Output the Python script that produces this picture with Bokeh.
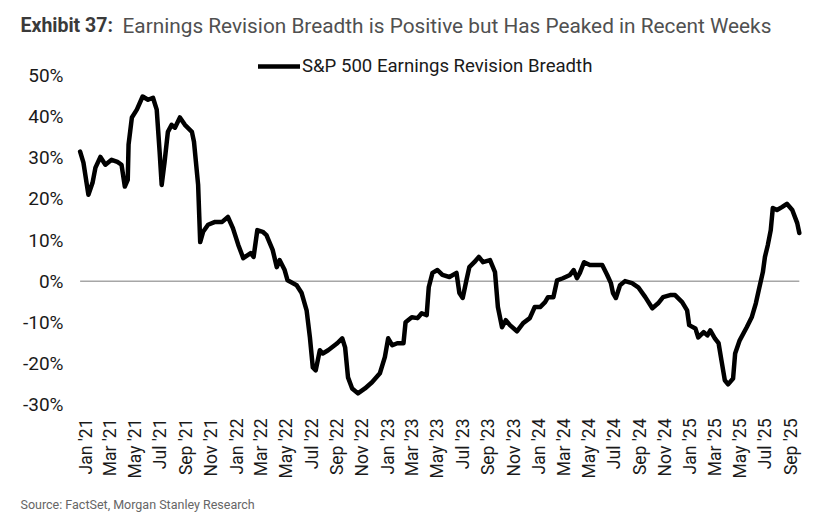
import pandas as pd
from math import pi
from bokeh.plotting import figure
from bokeh.models import FixedTicker, Legend, LegendItem, ColumnDataSource, Range1d, Label
from bokeh.embed import file_html
from bokeh.resources import INLINE

# ---- data ----
dates = [
    "2020-12-19", "2020-12-27", "2021-01-08", "2021-01-18", "2021-01-25", "2021-02-06", "2021-02-18", "2021-03-05", "2021-03-19", "2021-03-29",
    "2021-04-06", "2021-04-13", "2021-04-15", "2021-04-23", "2021-05-05", "2021-05-19", "2021-06-01", "2021-06-13", "2021-06-22", "2021-06-29",
    "2021-07-04", "2021-07-11", "2021-07-19", "2021-07-28", "2021-08-05", "2021-08-17", "2021-08-29", "2021-09-15", "2021-09-20", "2021-09-30",
    "2021-10-05", "2021-10-12", "2021-10-24", "2021-11-10", "2021-11-27", "2021-12-11", "2021-12-23", "2022-01-05", "2022-01-17", "2022-02-04",
    "2022-02-11", "2022-02-20", "2022-03-05", "2022-03-14", "2022-03-29", "2022-04-08", "2022-04-15", "2022-04-27", "2022-05-04", "2022-05-26",
    "2022-06-07", "2022-06-19", "2022-06-27", "2022-07-04", "2022-07-11", "2022-07-21", "2022-07-28", "2022-08-10", "2022-09-01", "2022-09-13",
    "2022-09-20", "2022-09-27", "2022-10-07", "2022-10-21", "2022-11-07", "2022-11-24", "2022-12-13", "2022-12-25", "2023-01-02", "2023-01-12",
    "2023-01-24", "2023-02-08", "2023-02-13", "2023-02-28", "2023-03-14", "2023-03-24", "2023-04-05", "2023-04-10", "2023-04-19", "2023-05-01",
    "2023-05-13", "2023-05-30", "2023-06-16", "2023-06-23", "2023-07-01", "2023-07-10", "2023-07-17", "2023-07-29", "2023-08-09", "2023-08-19",
    "2023-09-05", "2023-09-17", "2023-09-24", "2023-10-04", "2023-10-13", "2023-10-23", "2023-11-09", "2023-11-24", "2023-12-10", "2023-12-22",
    "2024-01-04", "2024-01-16", "2024-01-23", "2024-02-05", "2024-02-14", "2024-02-28", "2024-03-16", "2024-03-25", "2024-04-02", "2024-04-09",
    "2024-04-19", "2024-05-03", "2024-05-20", "2024-06-02", "2024-06-14", "2024-06-23", "2024-06-28", "2024-07-05", "2024-07-15", "2024-07-27",
    "2024-08-13", "2024-08-28", "2024-09-14", "2024-10-01", "2024-10-15", "2024-10-27", "2024-11-13", "2024-11-25", "2024-12-12", "2024-12-24",
    "2024-12-29", "2025-01-13", "2025-01-20", "2025-02-02", "2025-02-11", "2025-02-18", "2025-03-01", "2025-03-10", "2025-03-17", "2025-03-25",
    "2025-04-02", "2025-04-14", "2025-04-19", "2025-04-30", "2025-05-17", "2025-05-29", "2025-06-08", "2025-06-15", "2025-06-25", "2025-06-30",
    "2025-07-07", "2025-07-14", "2025-07-19", "2025-07-29", "2025-08-10", "2025-08-22", "2025-09-04", "2025-09-16", "2025-09-21",
]

breadth = [
    31.5, 28.8, 21.0, 23.9, 27.6, 30.2, 28.3, 29.5, 29.0, 28.3,
    23.0, 24.6, 33.2, 39.8, 41.7, 44.9, 44.1, 44.6, 41.7, 31.5,
    23.4, 29.0, 36.3, 38.0, 37.3, 39.8, 38.0, 36.3, 33.9, 23.4,
    9.5, 12.0, 13.7, 14.4, 14.4, 15.6, 12.9, 8.8, 5.6, 6.8,
    5.9, 12.4, 12.0, 11.2, 7.6, 3.4, 5.1, 2.7, 0.2, -1.0,
    -2.9, -7.1, -13.7, -21.0, -21.7, -16.8, -17.6, -16.8, -15.1, -13.9,
    -16.1, -23.4, -26.1, -27.3, -26.1, -24.6, -22.4, -18.5, -13.9, -15.6,
    -15.1, -15.1, -10.0, -8.8, -9.0, -7.8, -8.3, -1.5, 2.0, 2.7,
    1.5, 1.0, 2.0, -2.9, -4.1, 0.2, 3.4, 4.6, 5.9, 4.6,
    5.1, 2.2, -6.3, -11.2, -9.5, -10.7, -12.2, -10.2, -9.0, -6.3,
    -6.3, -5.1, -3.9, -3.9, 0.2, 0.7, 1.5, 2.7, 0.7, 2.0,
    4.6, 3.9, 3.9, 3.9, 1.5, -0.5, -2.9, -4.1, -1.0, 0.0,
    -0.5, -1.5, -3.9, -6.6, -5.4, -3.9, -3.4, -3.4, -5.1, -7.1,
    -10.7, -11.5, -13.7, -12.4, -13.2, -12.0, -13.9, -15.1, -19.3, -24.1,
    -25.1, -23.7, -17.6, -14.4, -11.2, -8.8, -5.4, -2.2, 2.2, 5.9,
    8.8, 12.4, 17.8, 17.3, 18.0, 18.8, 17.3, 14.1, 11.7,
]

tick_dates = [
    "2021-01-01", "2021-03-01", "2021-05-01", "2021-07-01", "2021-09-01", "2021-11-01",
    "2022-01-01", "2022-03-01", "2022-05-01", "2022-07-01", "2022-09-01", "2022-11-01",
    "2023-01-01", "2023-03-01", "2023-05-01", "2023-07-01", "2023-09-01", "2023-11-01",
    "2024-01-01", "2024-03-01", "2024-05-01", "2024-07-01", "2024-09-01", "2024-11-01",
    "2025-01-01", "2025-03-01", "2025-05-01", "2025-07-01", "2025-09-01",
]
tick_labels = [
    "Jan '21", "Mar '21", "May '21", "Jul '21", "Sep '21", "Nov '21",
    "Jan '22", "Mar '22", "May '22", "Jul '22", "Sep '22", "Nov '22",
    "Jan '23", "Mar '23", "May '23", "Jul '23", "Sep '23", "Nov '23",
    "Jan '24", "Mar '24", "May '24", "Jul '24", "Sep '24", "Nov '24",
    "Jan '25", "Mar '25", "May '25", "Jul '25", "Sep '25",
]
y_ticks = [-30, -20, -10, 0, 10, 20, 30, 40, 50]
y_tick_labels = ["-30%", "-20%", "-10%", "0%", "10%", "20%", "30%", "40%", "50%"]

series_name = "S&P 500 Earnings Revision Breadth"
title_bold = "Exhibit 37:"
title_rest = "Earnings Revision Breadth is Positive but Has Peaked in Recent Weeks"
source_text = "Source: FactSet, Morgan Stanley Research"

# ---- build ----
FONT = "Roboto"
W, H = 822, 520
LEFT = 20                 # frame starts at the title's left edge so header texts sit inside it
FW, FH = W - LEFT, 404     # frame spans from canvas top down to the plot's bottom edge

src = ColumnDataSource(data=dict(date=pd.to_datetime(dates), value=breadth))
tick_ms = [float(pd.Timestamp(d).value // 10**6) for d in tick_dates]

p = figure(
    x_axis_type="datetime",
    width=W, height=H,
    frame_width=FW, frame_height=FH,
    min_border_left=LEFT, min_border_right=0, min_border_top=0, min_border_bottom=H - FH,
    x_range=Range1d(pd.Timestamp("2020-07-28"), pd.Timestamp("2025-11-16")),
    y_range=Range1d(-30, 68.24),
    output_backend="svg", toolbar_location=None,
)
p.outline_line_color = None
p.xgrid.visible = False
p.ygrid.visible = False

# zero reference line across the plotted period
p.segment(x0=[pd.Timestamp(dates[0])], x1=[pd.Timestamp(dates[-1])], y0=[0], y1=[0],
          line_color="#a6a6a6", line_width=1.5)

r = p.line("date", "value", source=src, line_color="black", line_width=4.5,
           line_join="round", line_cap="round")

legend = Legend(items=[LegendItem(label=series_name, renderers=[r])],
                location=(258 - LEFT, FH - 77), orientation="horizontal",
                border_line_color=None, background_fill_alpha=0,
                label_text_font=FONT, label_text_font_size="18.6px", label_text_color="#1a1a1a",
                glyph_width=42, glyph_height=20, label_standoff=2,
                padding=0, margin=0, spacing=0, label_height=20)
p.add_layout(legend, "center")

xa = p.xaxis[0]
xa.ticker = FixedTicker(ticks=tick_ms)
xa.major_label_overrides = {t_: lab for t_, lab in zip(tick_ms, tick_labels)}
xa.major_label_orientation = pi / 2
xa.major_label_text_font = FONT
xa.major_label_text_font_size = "17.5px"
xa.major_label_text_color = "#1a1a1a"
xa.major_label_standoff = 14
xa.axis_line_color = None
xa.major_tick_line_color = None
xa.minor_tick_line_color = None
xa.major_tick_out = 0
xa.major_tick_in = 0
# source note as the x axis' own label, starting at the left edge under the chart
# (a negligible negative angle makes the label left-anchored instead of centred)
xa.axis_label = source_text
xa.axis_label_text_font = FONT
xa.axis_label_text_font_size = "12.5px"
xa.axis_label_text_font_style = "normal"
xa.axis_label_text_color = "#666666"
xa.axis_label_standoff = 23
xa.axis_label_align = "start"
xa.axis_label_orientation = -0.0001

ya = p.yaxis[0]
ya.ticker = FixedTicker(ticks=y_ticks)
ya.major_label_overrides = {t_: lab for t_, lab in zip(y_ticks, y_tick_labels)}
ya.major_label_text_font = FONT
ya.major_label_text_font_size = "19px"
ya.major_label_text_color = "#1a1a1a"
ya.major_label_standoff = -(63 - LEFT)
ya.axis_line_color = None
ya.major_tick_line_color = None
ya.minor_tick_line_color = None
ya.major_tick_out = 0
ya.major_tick_in = 0

# title: bold lead-in plus regular text
p.add_layout(Label(x=0, y=FH - 25, x_units="screen", y_units="screen", text=title_bold,
                   text_font=FONT, text_font_size="19.5px", text_font_style="bold",
                   text_color="#3a3a3a", text_baseline="middle", text_align="left"))
p.add_layout(Label(x=122 - LEFT, y=FH - 25, x_units="screen", y_units="screen", text=title_rest,
                   text_font=FONT, text_font_size="20.8px", text_font_style="normal",
                   text_color="#505050", text_baseline="middle", text_align="left"))

open("out.html", "w").write(file_html(p, INLINE))
